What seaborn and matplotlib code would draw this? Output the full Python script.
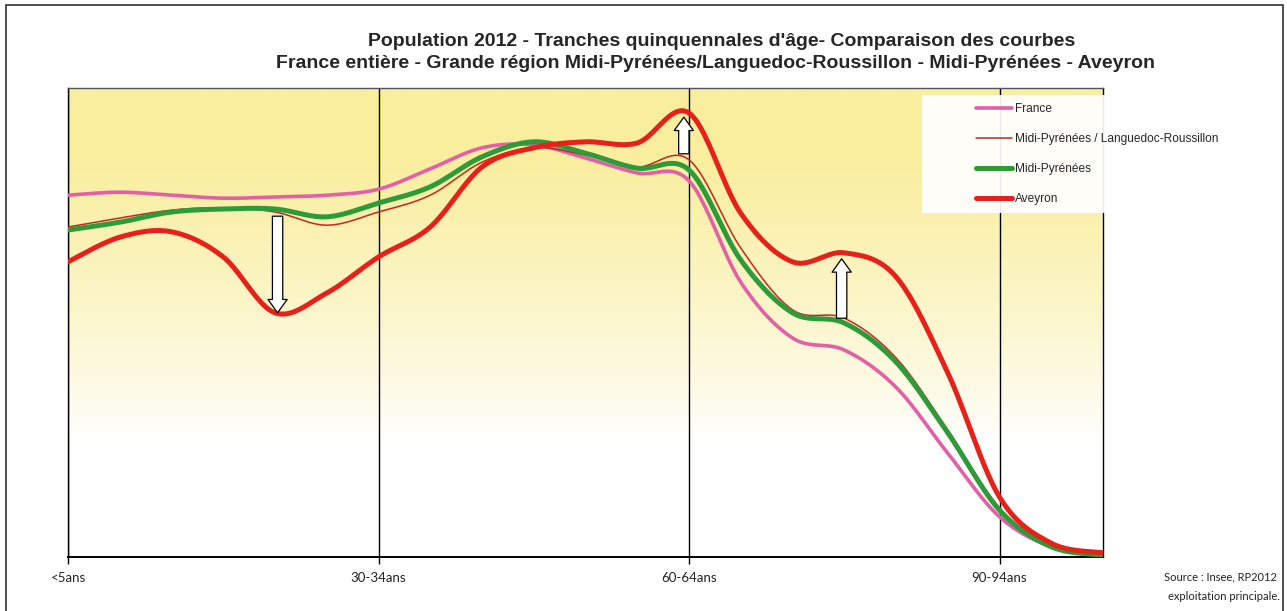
import numpy as np
import pandas as pd
import matplotlib
matplotlib.use("Agg")
import matplotlib.pyplot as plt
import seaborn as sns
from matplotlib.patches import Rectangle

# ---------------- data ----------------
categories = ["<5ans", "5-9ans", "10-14ans", "15-19ans", "20-24ans", "25-29ans",
              "30-34ans", "35-39ans", "40-44ans", "45-49ans", "50-54ans", "55-59ans",
              "60-64ans", "65-69ans", "70-74ans", "75-79ans", "80-84ans", "85-89ans",
              "90-94ans", "95-99ans", "100ans+"]
tick_labels = ["<5ans", "30-34ans", "60-64ans", "90-94ans"]
series_names = ["France", "Midi-Pyrénées / Languedoc-Roussillon", "Midi-Pyrénées", "Aveyron"]

france = [6.03, 6.08, 6.03, 5.98, 6.00, 6.03, 6.13, 6.47, 6.82, 6.87, 6.65, 6.40,
          6.27, 4.58, 3.65, 3.45, 2.83, 1.73, 0.67, 0.17, 0.03]
mp_lr = [5.50, 5.65, 5.78, 5.82, 5.75, 5.53, 5.75, 6.03, 6.58, 6.82, 6.70, 6.50,
         6.62, 5.15, 4.12, 3.98, 3.32, 2.12, 0.82, 0.18, 0.03]
mp = [5.45, 5.58, 5.75, 5.80, 5.80, 5.67, 5.90, 6.17, 6.67, 6.92, 6.73, 6.48,
      6.45, 4.95, 4.07, 3.90, 3.25, 2.07, 0.78, 0.17, 0.03]
aveyron = [4.92, 5.33, 5.42, 5.00, 4.07, 4.40, 5.00, 5.50, 6.50, 6.82, 6.92, 6.90,
           7.40, 5.73, 4.92, 5.07, 4.67, 3.07, 1.00, 0.23, 0.07]

title1 = "Population 2012 - Tranches quinquennales d'âge- Comparaison des courbes"
title2 = "France entière - Grande région Midi-Pyrénées/Languedoc-Roussillon - Midi-Pyrénées - Aveyron"
source1 = "Source : Insee, RP2012"
source2 = "exploitation principale."

colors = ["#E35FA6", "#C8261C", "#2E9B3A", "#E8201A"]
widths = [2.6, 1.1, 3.6, 3.6]

# ---------------- style ----------------
sns.set_theme(style="white")
plt.rcParams["font.family"] = ["Liberation Sans", "DejaVu Sans"]

W, H = 1287, 611
fig = plt.figure(figsize=(W / 100, H / 100), dpi=100)
fig.patch.set_facecolor("white")
ax = fig.add_axes([68 / W, (H - 557) / H, (1103 - 68) / W, (557 - 88) / H])

ymax = 469 / 60
ax.set_xlim(0, len(categories) - 1)
ax.set_ylim(0, ymax)

# yellow gradient background
n = 256
f = np.linspace(1, 0, n)[:, None]
yl = np.clip((f - 0.25) / 0.6, 0, 1) ** 0.8
top = np.array([249, 238, 158]) / 255
grad = (1 - yl)[..., None] * np.ones(3) + yl[..., None] * top
grad = np.repeat(grad, 2, axis=1)
ax.imshow(grad, extent=[0, len(categories) - 1, 0, ymax], aspect="auto", zorder=0)


def smooth(xs, ys, k=24):
    """Excel-style smoothed line (Catmull-Rom Bezier segments)."""
    P = np.column_stack([np.asarray(xs, float), np.asarray(ys, float)])
    Pp = np.vstack([P[0], P, P[-1]])
    t = np.linspace(0, 1, k, endpoint=False)[:, None]
    out = []
    for i in range(len(P) - 1):
        p0, p1, p2, p3 = Pp[i], Pp[i + 1], Pp[i + 2], Pp[i + 3]
        c1 = p1 + (p2 - p0) / 6
        c2 = p2 - (p3 - p1) / 6
        out.append((1 - t) ** 3 * p1 + 3 * (1 - t) ** 2 * t * c1
                   + 3 * (1 - t) * t ** 2 * c2 + t ** 3 * p2)
    out.append(P[-1:])
    arr = np.vstack(out)
    return arr[:, 0], arr[:, 1]


idx = np.arange(len(categories))
for name, vals, c, lw in zip(series_names, [france, mp_lr, mp, aveyron], colors, widths):
    sx, sy = smooth(idx, vals)
    df = pd.DataFrame({"x": sx, "v": sy})
    sns.lineplot(data=df, x="x", y="v", ax=ax, color=c, linewidth=lw, label=name,
                 sort=False, estimator=None, zorder=3, legend=False)

# arrows
ap = dict(arrowstyle="simple,head_length=0.8,head_width=1.15,tail_width=0.62",
          fc="white", ec="black", lw=0.9, shrinkA=0, shrinkB=0, mutation_scale=12)
ax.annotate("", xy=(4.05, aveyron[4]), xytext=(4.05, mp[4] - 0.12), arrowprops=ap, zorder=5)
ax.annotate("", xy=(11.9, aveyron[12] - 0.07), xytext=(11.9, mp_lr[12] + 0.1), arrowprops=ap, zorder=5)
ax.annotate("", xy=(14.95, aveyron[15] - 0.1), xytext=(14.95, mp_lr[15]), arrowprops=ap, zorder=5)

# axes decoration
ax.set_xlabel("")
ax.set_ylabel("")
ax.set_yticks([])
ax.set_xticks([categories.index(t) for t in tick_labels])
ax.set_xticklabels(tick_labels, fontfamily=["Lato", "DejaVu Sans"], fontsize=9.5, color="#222")
ax.tick_params(axis="x", length=5, width=1, color="black", direction="out", pad=6, bottom=True)
ax.grid(axis="x", color="black", lw=1)
ax.grid(axis="y", visible=False)
for s in ["left", "right", "bottom"]:
    ax.spines[s].set_color("black")
    ax.spines[s].set_linewidth(1)
ax.spines["bottom"].set_linewidth(1.4)
ax.spines["top"].set_color("#555")
ax.spines["top"].set_linewidth(1)

# legend box + legend
fig.add_artist(Rectangle((922 / W, 1 - 213 / H), (1240 - 922) / W, (213 - 95) / H,
                         transform=fig.transFigure, fc="white", ec="none", alpha=0.92, zorder=5))
handles, labels = ax.get_legend_handles_labels()
leg = fig.legend(handles, labels, loc="upper left", bbox_to_anchor=(968 / W, 1 - 95 / H),
                 frameon=False, fontsize=8.6, handlelength=3.0, handletextpad=0.25,
                 labelspacing=1.5, borderpad=0.2)
leg.set_zorder(6)

# titles
fig.text(722 / W, 1 - 42 / H, title1, ha="center", va="center", fontsize=14, fontweight="bold")
fig.text(715 / W, 1 - 64 / H, title2, ha="center", va="center", fontsize=14, fontweight="bold")

# source
fig.text(1277 / W, 1 - 577 / H, source1, ha="right", va="center", fontsize=8,
         family=["Lato", "DejaVu Sans"], color="#222")
fig.text(1280 / W, 1 - 596 / H, source2, ha="right", va="center", fontsize=8,
         family=["Lato", "DejaVu Sans"], color="#222")

# outer frame
fig.add_artist(Rectangle((6 / W, -0.05), (1283 - 6) / W, 1 - 5 / H + 0.05,
                         transform=fig.transFigure, fill=False, ec="#333", lw=1.2, zorder=10))

fig.savefig("out.png", dpi=100)
